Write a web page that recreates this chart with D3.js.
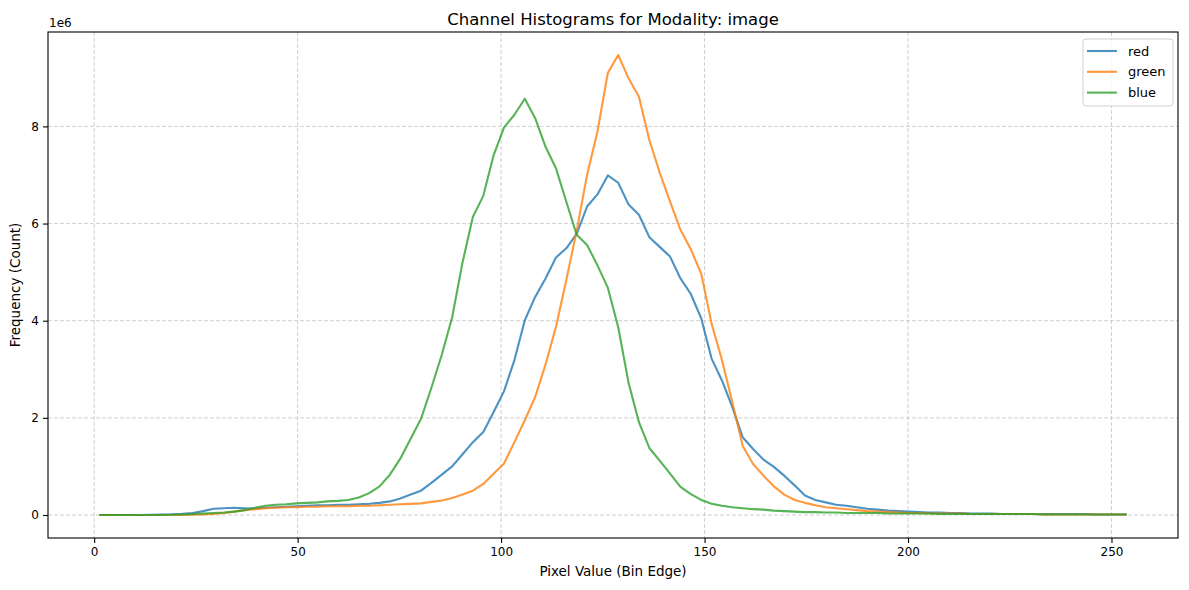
<!DOCTYPE html>
<html>
<head>
<meta charset="utf-8">
<script src="https://cdn.jsdelivr.net/npm/d3@7"></script>
<style>
    body { margin: 0; background: #fff; }
    #chart { width: 1189px; height: 590px; }
    text { font-family: "DejaVu Sans", sans-serif; fill: #000; }
</style>
</head>
<body>
<div id="chart"></div>
<script>
// channel names + matplotlib default colours
const channels = ["red", "green", "blue"];
const channelColors = ["#1f77b4", "#ff7f0e", "#2ca02c"];

// 100 bins over 0..255, values plotted at bin centres
const binStart = 1.275;
const binWidth = 2.55;

// counts per bin, in millions (axis shows 1e6)
const redCounts = [
    0, 0, 0, 0, 0, 0.005, 0.01, 0.015, 0.025, 0.04,
    0.08, 0.13, 0.14, 0.15, 0.14, 0.13, 0.15, 0.16, 0.17, 0.18,
    0.19, 0.2, 0.2, 0.21, 0.21, 0.22, 0.23, 0.25, 0.28, 0.34,
    0.42, 0.5, 0.66, 0.83, 1.0, 1.25, 1.5, 1.71, 2.12, 2.55,
    3.19, 4.01, 4.49, 4.87, 5.3, 5.49, 5.79, 6.35, 6.6, 6.99,
    6.84, 6.39, 6.18, 5.72, 5.52, 5.32, 4.87, 4.55, 4.05, 3.22,
    2.77, 2.22, 1.6, 1.36, 1.14, 0.99, 0.81, 0.61, 0.4, 0.31,
    0.26, 0.21, 0.19, 0.16, 0.13, 0.11, 0.09, 0.08, 0.07, 0.06,
    0.05, 0.05, 0.04, 0.04, 0.03, 0.03, 0.03, 0.02, 0.02, 0.02,
    0.02, 0.02, 0.02, 0.02, 0.02, 0.02, 0.01, 0.01, 0.01, 0.01
];
const greenCounts = [
    0, 0, 0, 0, 0, 0, 0, 0, 0, 0.005,
    0.01, 0.02, 0.04, 0.07, 0.1, 0.12, 0.14, 0.15, 0.16, 0.16,
    0.17, 0.17, 0.18, 0.18, 0.18, 0.19, 0.19, 0.2, 0.21, 0.22,
    0.23, 0.24, 0.27, 0.3, 0.35, 0.42, 0.5, 0.64, 0.85, 1.06,
    1.5, 1.95, 2.43, 3.1, 3.87, 4.84, 5.85, 7.0, 7.89, 9.1,
    9.47, 8.99, 8.61, 7.72, 7.05, 6.45, 5.87, 5.47, 4.97, 3.94,
    3.19, 2.32, 1.42, 1.05, 0.81, 0.59, 0.42, 0.31, 0.25, 0.2,
    0.16, 0.14, 0.12, 0.1, 0.08, 0.07, 0.06, 0.05, 0.04, 0.04,
    0.03, 0.03, 0.03, 0.03, 0.02, 0.02, 0.02, 0.02, 0.02, 0.02,
    0.02, 0.01, 0.01, 0.01, 0.01, 0.01, 0.01, 0.01, 0.01, 0.01
];
const blueCounts = [
    0, 0, 0, 0, 0, 0, 0, 0.005, 0.01, 0.02,
    0.03, 0.04, 0.05, 0.07, 0.1, 0.15, 0.19, 0.21, 0.22, 0.24,
    0.25, 0.26, 0.28, 0.29, 0.31, 0.36, 0.45, 0.59, 0.83, 1.16,
    1.57, 1.98, 2.62, 3.3, 4.07, 5.2, 6.14, 6.57, 7.41, 7.98,
    8.24, 8.57, 8.17, 7.58, 7.14, 6.45, 5.77, 5.56, 5.14, 4.68,
    3.87, 2.72, 1.91, 1.38, 1.12, 0.85, 0.58, 0.43, 0.31, 0.23,
    0.19, 0.16, 0.14, 0.12, 0.11, 0.09, 0.08, 0.07, 0.06, 0.06,
    0.05, 0.05, 0.04, 0.04, 0.04, 0.04, 0.03, 0.03, 0.03, 0.03,
    0.03, 0.02, 0.02, 0.02, 0.02, 0.02, 0.02, 0.02, 0.02, 0.02,
    0.02, 0.01, 0.01, 0.01, 0.01, 0.01, 0.01, 0.01, 0.01, 0.01
];

const xTicks = [0, 50, 100, 150, 200, 250];
const yTicks = [0, 2, 4, 6, 8];

class HistogramVis {
    constructor(containerId) {
        this.containerId = containerId;
        this.series = [redCounts, greenCounts, blueCounts].map((counts, i) => ({
            name: channels[i],
            color: channelColors[i],
            values: counts.map((c, j) => ({ x: binStart + binWidth * j, y: c }))
        }));
        this.initVis();
    }

    initVis() {
        let vis = this;

        vis.width = 1189;
        vis.height = 590;
        vis.margin = { top: 32, right: 11, bottom: 52, left: 48 };
        vis.innerW = vis.width - vis.margin.left - vis.margin.right;
        vis.innerH = vis.height - vis.margin.top - vis.margin.bottom;

        vis.svg = d3.select(`#${vis.containerId}`)
            .append("svg")
            .attr("width", vis.width)
            .attr("height", vis.height);

        vis.g = vis.svg.append("g")
            .attr("transform", `translate(${vis.margin.left},${vis.margin.top})`);

        // matplotlib style 5% margins
        let allX = vis.series[0].values.map(d => d.x);
        let xMin = d3.min(allX), xMax = d3.max(allX);
        let yMax = d3.max(vis.series, s => d3.max(s.values, d => d.y));
        let xPad = (xMax - xMin) * 0.05;

        vis.x = d3.scaleLinear()
            .domain([xMin - xPad, xMax + xPad])
            .range([0, vis.innerW]);
        vis.y = d3.scaleLinear()
            .domain([-yMax * 0.05, yMax * 1.05])
            .range([vis.innerH, 0]);

        vis.drawAxes();
        vis.updateVis();
        vis.drawLegend();
    }

    drawAxes() {
        let vis = this;

        // grid
        vis.g.append("g")
            .selectAll("line.vgrid")
            .data(xTicks)
            .join("line")
            .attr("x1", d => vis.x(d)).attr("x2", d => vis.x(d))
            .attr("y1", 0).attr("y2", vis.innerH)
            .attr("stroke", "#b0b0b0")
            .attr("stroke-opacity", 0.6)
            .attr("stroke-width", 1)
            .attr("stroke-dasharray", "4,2");
        vis.g.append("g")
            .selectAll("line.hgrid")
            .data(yTicks)
            .join("line")
            .attr("x1", 0).attr("x2", vis.innerW)
            .attr("y1", d => vis.y(d)).attr("y2", d => vis.y(d))
            .attr("stroke", "#b0b0b0")
            .attr("stroke-opacity", 0.6)
            .attr("stroke-width", 1)
            .attr("stroke-dasharray", "4,2");

        let xAxis = vis.g.append("g")
            .attr("transform", `translate(0,${vis.innerH})`)
            .call(d3.axisBottom(vis.x).tickValues(xTicks).tickSize(5).tickPadding(4).tickFormat(d3.format("d")));
        let yAxis = vis.g.append("g")
            .call(d3.axisLeft(vis.y).tickValues(yTicks).tickSize(5).tickPadding(4).tickFormat(d3.format("d")));

        [xAxis, yAxis].forEach(ax => {
            ax.select(".domain").remove();
            ax.selectAll("line").attr("stroke", "#000").attr("stroke-width", 1.1);
            ax.selectAll("text")
                .style("font-size", "12px")
                .style("font-family", "DejaVu Sans, sans-serif")
                .attr("fill", "#000");
        });

        // frame
        vis.g.append("rect")
            .attr("width", vis.innerW)
            .attr("height", vis.innerH)
            .attr("fill", "none")
            .attr("stroke", "#000")
            .attr("stroke-width", 1.1);

        // title + labels
        vis.svg.append("text")
            .attr("x", vis.margin.left + vis.innerW / 2)
            .attr("y", 25)
            .attr("text-anchor", "middle")
            .style("font-size", "16.5px")
            .text("Channel Histograms for Modality: image");

        vis.svg.append("text")
            .attr("x", vis.margin.left + vis.innerW / 2)
            .attr("y", 576)
            .attr("text-anchor", "middle")
            .style("font-size", "13.5px")
            .text("Pixel Value (Bin Edge)");

        vis.svg.append("text")
            .attr("transform", `translate(20,${vis.margin.top + vis.innerH / 2}) rotate(-90)`)
            .attr("text-anchor", "middle")
            .style("font-size", "13.5px")
            .text("Frequency (Count)");

        vis.svg.append("text")
            .attr("x", vis.margin.left + 1)
            .attr("y", 27)
            .style("font-size", "12px")
            .text("1e6");
    }

    updateVis() {
        let vis = this;

        let line = d3.line()
            .x(d => vis.x(d.x))
            .y(d => vis.y(d.y));

        vis.g.selectAll("path.series")
            .data(vis.series)
            .join("path")
            .attr("class", "series")
            .attr("d", d => line(d.values))
            .attr("fill", "none")
            .attr("stroke", d => d.color)
            .attr("stroke-opacity", 0.8)
            .attr("stroke-width", 2.1)
            .attr("stroke-linejoin", "round");
    }

    drawLegend() {
        let vis = this;

        let legend = vis.svg.append("g")
            .attr("transform", "translate(1083,39)");

        legend.append("rect")
            .attr("width", 90)
            .attr("height", 67)
            .attr("rx", 3)
            .attr("fill", "#fff")
            .attr("fill-opacity", 0.8)
            .attr("stroke", "#d0d0d0")
            .attr("stroke-width", 1);

        let rows = legend.selectAll("g.row")
            .data(vis.series)
            .join("g")
            .attr("class", "row")
            .attr("transform", (d, i) => `translate(0,${12 + i * 20.8})`);

        rows.append("line")
            .attr("x1", 4).attr("x2", 34)
            .attr("stroke", d => d.color)
            .attr("stroke-opacity", 0.8)
            .attr("stroke-width", 2.1);

        rows.append("text")
            .attr("x", 45)
            .attr("dy", "0.35em")
            .style("font-size", "13px")
            .text(d => d.name);
    }
}

new HistogramVis("chart");
</script>
</body>
</html>
